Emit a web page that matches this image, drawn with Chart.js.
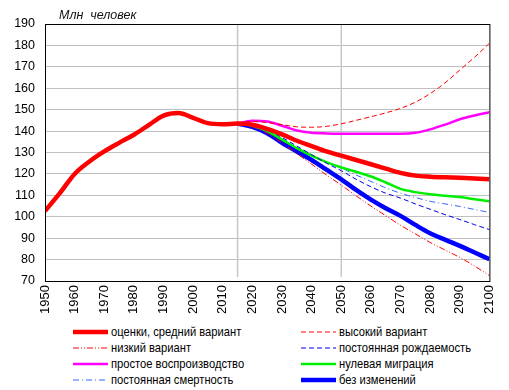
<!DOCTYPE html>
<html>
<head>
<meta charset="utf-8">
<script src="https://cdn.jsdelivr.net/npm/chart.js@4"></script>
<style>
  body { margin: 0; background: #fff; font-family: "Liberation Sans", Arial, sans-serif; }
  #wrap { position: relative; width: 509px; height: 390px; }
  #legend { position: absolute; left: 0; top: 324px; width: 509px; }
  .item { position: absolute; height: 16px; line-height: 16px; font-size: 13px; color: #000;
          white-space: nowrap; display: flex; align-items: center; }
  .item svg { margin-right: 3px; }
  .item span { display: inline-block; transform: scaleX(0.86); transform-origin: left center; }
</style>
</head>
<body>
<div id="wrap">
  <canvas id="chart" width="509" height="320"></canvas>
  <div id="legend"></div>
</div>
<script>
// history 1950-2015, step 5
const histYears = [1950, 1955, 1960, 1965, 1970, 1975, 1980, 1985, 1990, 1995, 2000, 2005, 2010, 2015];
const histMedium = [102.7, 111.0, 120.0, 125.8, 130.5, 134.5, 138.3, 142.8, 147.2, 148.4, 146.2, 143.7, 143.2, 143.5];

// projections 2015-2100, step 5
const projYears = [2015, 2020, 2025, 2030, 2035, 2040, 2045, 2050, 2055, 2060, 2065, 2070, 2075, 2080, 2085, 2090, 2095, 2100];
const medium      = [143.5, 143.0, 141.0, 138.5, 135.5, 133.0, 130.5, 128.5, 126.5, 124.5, 122.5, 120.5, 119.2, 118.7, 118.4, 118.2, 117.9, 117.5];
const high        = [143.5, 144.5, 144.0, 143.0, 142.0, 141.8, 142.2, 143.4, 145.0, 146.7, 148.5, 150.6, 153.5, 157.5, 162.5, 168.5, 174.5, 181.0];
const low         = [143.5, 142.0, 139.0, 134.5, 129.5, 124.5, 119.5, 114.8, 109.8, 105.0, 100.5, 96.0, 92.0, 88.0, 84.5, 81.0, 77.0, 72.5];
const constFert   = [143.5, 142.5, 140.5, 137.0, 133.0, 129.0, 125.0, 121.5, 117.5, 114.0, 111.0, 108.7, 106.0, 103.5, 101.0, 98.7, 96.3, 94.0];
const replacement = [143.5, 144.8, 144.5, 142.5, 140.3, 139.2, 138.9, 138.8, 138.8, 138.8, 138.8, 138.8, 139.2, 140.8, 143.0, 145.5, 147.3, 148.8];
const zeroMig     = [143.5, 142.5, 140.0, 136.0, 132.0, 128.5, 125.5, 123.0, 121.0, 118.8, 116.0, 113.0, 111.5, 110.5, 109.8, 109.2, 108.2, 107.2];
const constMort   = [143.5, 142.5, 140.0, 136.0, 132.0, 128.5, 125.5, 122.8, 119.5, 116.5, 113.5, 111.0, 109.0, 107.2, 106.0, 104.8, 103.4, 102.0];
const noChange    = [143.5, 142.0, 139.0, 134.5, 130.5, 126.5, 122.0, 117.5, 112.5, 108.0, 104.0, 100.4, 96.2, 92.3, 89.3, 86.4, 83.3, 80.2];

const markerYears = [2015, 2050];

const toPoints = (xs, ys) => xs.map((x, i) => ({ x: x, y: ys[i] }));

// legend order (row by row, two columns)
const series = [
  { label: 'оценки,  средний вариант', pts: toPoints(histYears, histMedium).concat(toPoints(projYears.slice(1), medium.slice(1))), color: '#ff0000', width: 4.5, dash: [] },
  { label: 'высокий вариант',          pts: toPoints(projYears, high),        color: '#ff0000', width: 1,   dash: [5, 3] },
  { label: 'низкий вариант',           pts: toPoints(projYears, low),         color: '#ff0000', width: 1,   dash: [6, 2, 1, 2, 1, 2] },
  { label: 'постоянная рождаемость',   pts: toPoints(projYears, constFert),   color: '#0000ee', width: 1,   dash: [5, 3] },
  { label: 'простое воспроизводство',  pts: toPoints(projYears, replacement), color: '#ff00ff', width: 2.5, dash: [] },
  { label: 'нулевая миграция',         pts: toPoints(projYears, zeroMig),     color: '#00ee00', width: 2.5, dash: [] },
  { label: 'постоянная смертность',    pts: toPoints(projYears, constMort),   color: '#3366ff', width: 1,   dash: [6, 3, 1, 3] },
  { label: 'без  изменений',           pts: toPoints(projYears, noChange),    color: '#0000ff', width: 4.5, dash: [] }
];

Chart.defaults.font.family = '"Liberation Sans", Arial, sans-serif';
Chart.defaults.color = '#000';

const framePlugin = {
  id: 'frame',
  beforeDatasetsDraw(chart) {
    const { ctx, chartArea, scales } = chart;
    ctx.save();
    ctx.strokeStyle = '#c8c8c8';
    ctx.lineWidth = 1.5;
    markerYears.forEach(yr => {
      const x = scales.x.getPixelForValue(yr);
      ctx.beginPath();
      ctx.moveTo(x, chartArea.top);
      ctx.lineTo(x, chartArea.bottom - 4);
      ctx.stroke();
    });
    ctx.restore();
  },
  afterDraw(chart) {
    const { ctx, chartArea } = chart;
    ctx.save();
    ctx.strokeStyle = '#000';
    ctx.lineWidth = 1;
    ctx.strokeRect(chartArea.left + 0.5, chartArea.top + 0.5, chartArea.right - chartArea.left, chartArea.bottom - chartArea.top);
    ctx.fillStyle = '#111';
    ctx.font = 'italic 12.5px "Liberation Sans", Arial, sans-serif';
    ctx.textBaseline = 'middle';
    ctx.fillText('Млн  человек', chartArea.left + 14, 16);
    ctx.restore();
  }
};

new Chart(document.getElementById('chart'), {
  type: 'line',
  data: {
    datasets: series.map(s => ({
      label: s.label,
      data: s.pts,
      borderColor: s.color,
      borderWidth: s.width,
      borderDash: s.dash,
      pointRadius: 0,
      fill: false,
      cubicInterpolationMode: 'monotone'
    }))
  },
  options: {
    responsive: false,
    animation: false,
    devicePixelRatio: 1,
    layout: { padding: { top: 24, right: 16, left: 0, bottom: 0 } },
    plugins: { legend: { display: false }, tooltip: { enabled: false } },
    scales: {
      x: {
        type: 'linear', min: 1950, max: 2100,
        ticks: { stepSize: 10, minRotation: 90, maxRotation: 90, autoSkip: false, padding: 4,
                 font: { size: 13 }, callback: v => String(v) },
        grid: { display: false, drawTicks: false },
        border: { color: '#000', width: 1 },
        afterFit: s => { s.height = 39; }
      },
      y: {
        min: 70, max: 190,
        ticks: { stepSize: 10, padding: 10, font: { size: 12.5 } },
        grid: { color: '#c0c0c0', drawTicks: false },
        border: { color: '#000', width: 1 },
        afterFit: s => { s.width = 45; }
      }
    }
  },
  plugins: [framePlugin]
});

// html legend
const legend = document.getElementById('legend');
series.forEach((s, i) => {
  const row = Math.floor(i / 2), col = i % 2;
  const el = document.createElement('div');
  el.className = 'item';
  el.style.top = (row * 16) + 'px';
  el.style.left = (col === 0 ? 73 : 301) + 'px';
  el.innerHTML = '<svg width="35" height="16"><line x1="0" y1="8" x2="35" y2="8" stroke="' + s.color +
    '" stroke-width="' + s.width + '" stroke-dasharray="' + (s.dash.length ? s.dash.join(' ') : 'none') + '"/></svg>';
  const t = document.createElement('span');
  t.textContent = s.label;
  el.appendChild(t);
  legend.appendChild(el);
});
</script>
</body>
</html>
